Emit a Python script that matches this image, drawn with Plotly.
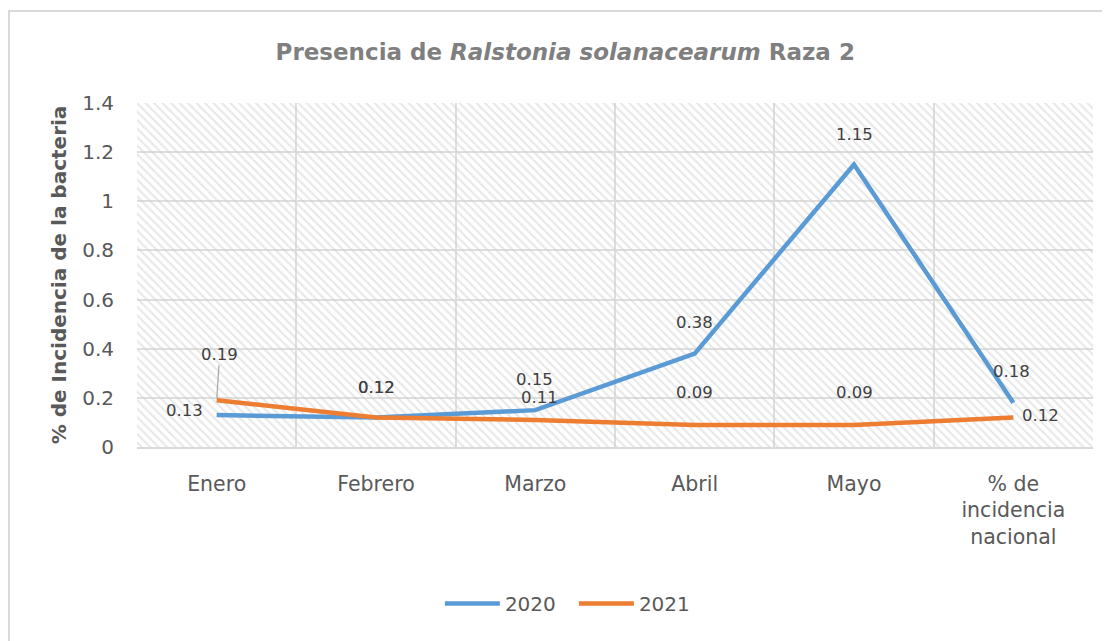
import plotly.graph_objects as go

categories = ["Enero", "Febrero", "Marzo", "Abril", "Mayo", "% de<br>incidencia<br>nacional"]
values_2020 = [0.13, 0.12, 0.15, 0.38, 1.15, 0.18]
values_2021 = [0.19, 0.12, 0.11, 0.09, 0.09, 0.12]
y_ticks = [0, 0.2, 0.4, 0.6, 0.8, 1.0, 1.2, 1.4]

# label offsets in pixels (xshift, yshift)
off_2020 = [(-32, 5), (0, 30), (-1, 31), (0, 31), (0, 30), (-2, 31)]
off_2021 = [(0, 0), (0, 30), (4, 22), (0, 32), (0, 32), (27, 2)]

FONT = "DejaVu Sans"
C2020 = "#5B9BD5"
C2021 = "#ED7D31"

fig = go.Figure()

# hatched plot background (base subplot, drawn beneath the data subplot)
fig.add_trace(go.Scatter(
    x=[0, 1, 1, 0, 0], y=[0, 0, 1, 1, 0], xaxis="x", yaxis="y",
    mode="lines", line=dict(width=0), fill="toself",
    fillcolor="rgba(0,0,0,0)",
    fillpattern=dict(shape="\\", fgcolor="#d0d0d0", bgcolor="rgba(0,0,0,0)",
                     size=6, solidity=0.35),
    hoverinfo="skip", showlegend=False))

fig.add_trace(go.Scatter(x=categories, y=values_2020, name="2020", mode="lines",
                         xaxis="x2", yaxis="y2",
                         line=dict(color=C2020, width=4.5)))
fig.add_trace(go.Scatter(x=categories, y=values_2021, name="2021", mode="lines",
                         xaxis="x2", yaxis="y2",
                         line=dict(color=C2021, width=4.5)))

ann = []
lab_font = dict(family=FONT, size=16.5, color="#404040")
for i, (c, v) in enumerate(zip(categories, values_2020)):
    dx, dy = off_2020[i]
    ann.append(dict(x=c, y=v, xref="x2", yref="y2", text=f"{v:.2f}", showarrow=False,
                    xshift=dx, yshift=dy, font=lab_font))
for i, (c, v) in enumerate(zip(categories, values_2021)):
    dx, dy = off_2021[i]
    if i == 0:
        ann.append(dict(x=c, y=v, xref="x2", yref="y2", text=f"{v:.2f}", showarrow=True,
                        arrowhead=0, arrowwidth=1.2, arrowcolor="#a6a6a6", ax=3, ay=-46,
                        standoff=2, font=lab_font))
    else:
        ann.append(dict(x=c, y=v, xref="x2", yref="y2", text=f"{v:.2f}", showarrow=False,
                        xshift=dx, yshift=dy, font=lab_font))

fig.update_layout(
    width=1110, height=641,
    margin=dict(l=129, r=25, t=95, b=202),
    paper_bgcolor="white", plot_bgcolor="white",
    title=dict(text="<b>Presencia de <i>Ralstonia solanacearum</i> Raza 2</b>",
               x=0.502, xanchor="center", y=0.931, yanchor="middle",
               font=dict(family=FONT, size=23, color="#7f7f7f")),
    xaxis=dict(range=[0, 1], visible=False, fixedrange=True),
    yaxis=dict(range=[0, 1], visible=False, fixedrange=True),
    xaxis2=dict(overlaying="x", type="category", range=[-0.5, 5.5], tickson="boundaries",
                side="bottom",
                showgrid=True, gridcolor="#dedede", gridwidth=1.5,
                showline=True, linecolor="#d9d9d9", linewidth=2,
                ticks="", ticklabelstandoff=17,
                tickfont=dict(family=FONT, size=20.5, color="#595959"),
                zeroline=False),
    yaxis2=dict(overlaying="y", side="left", range=[0, 1.4], tickvals=y_ticks,
                showgrid=True, gridcolor="#dedede",
                gridwidth=1.5, zeroline=False, showline=False, ticks="",
                ticklabelstandoff=22,
                tickfont=dict(family=FONT, size=20, color="#595959"),
                title=dict(text="<b>% de Incidencia de la bacteria</b>", standoff=10,
                           font=dict(family=FONT, size=20, color="#595959"))),
    legend=dict(orientation="h", x=0.457, xanchor="center", y=-0.455, yanchor="middle",
                font=dict(family=FONT, size=20, color="#595959"), itemwidth=55,
                entrywidth=64, entrywidthmode="pixels",
                traceorder="normal"),
    annotations=ann,
    shapes=[dict(type="rect", xref="paper", yref="paper", x0=-0.1339, x1=1.05,
                 y0=-0.6, y1=1.2674, line=dict(color="#d9d9d9", width=2),
                 fillcolor="rgba(0,0,0,0)", layer="below")],
)

fig.write_html("out.html")
